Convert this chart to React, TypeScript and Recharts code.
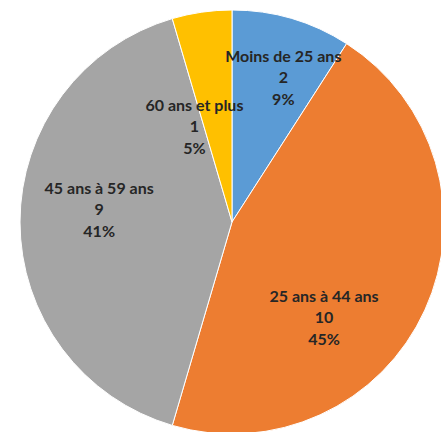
import { PieChart, Pie, Cell } from 'recharts';

const categories = ['Moins de 25 ans', '25 ans à 44 ans', '45 ans à 59 ans', '60 ans et plus'];
const counts = [2, 10, 9, 1];
const percents = ['9%', '45%', '41%', '5%'];
const colors = ['#5B9BD5', '#ED7D31', '#A5A5A5', '#FFC000'];

// where each label sits: fraction of radius, and clockwise shift from the slice middle (deg)
const labelRadius = [0.73, 0.62, 0.63, 0.49];
const labelShift = [3, 21, 6, -13];

const data = categories.map((name, i) => ({ name, value: counts[i], pct: percents[i] }));

const RAD = Math.PI / 180;

function renderLabel(props: any) {
  const { cx, cy, midAngle, outerRadius, index } = props;
  const angle = midAngle - labelShift[index];
  const r = outerRadius * labelRadius[index];
  const x = cx + r * Math.cos(angle * RAD);
  const y = cy - r * Math.sin(angle * RAD);
  const d = data[index];
  return (
    <text
      x={x}
      y={y}
      textAnchor="middle"
      dominantBaseline="central"
      fill="#262626"
      fontFamily="Lato, 'Open Sans', sans-serif"
      fontWeight="bold"
      fontSize={16}
    >
      <tspan x={x} dy="-1.33em">{d.name}</tspan>
      <tspan x={x} dy="1.33em">{d.value}</tspan>
      <tspan x={x} dy="1.37em">{d.pct}</tspan>
    </text>
  );
}

export default function App() {
  return (
    <div style={{ position: 'absolute', left: 0, top: 0, width: 441, height: 432, background: '#fff' }}>
      <PieChart width={441} height={432} margin={{ top: 0, right: 0, bottom: 0, left: 0 }}>
        <Pie
          data={data}
          dataKey="value"
          cx={232}
          cy={222}
          outerRadius={212}
          startAngle={90}
          endAngle={-270}
          stroke="#ffffff"
          strokeWidth={1}
          label={renderLabel}
          labelLine={false}
          isAnimationActive={false}
        >
          {data.map((entry, index) => (
            <Cell key={`cell-${index}`} fill={colors[index]} />
          ))}
        </Pie>
      </PieChart>
    </div>
  );
}
